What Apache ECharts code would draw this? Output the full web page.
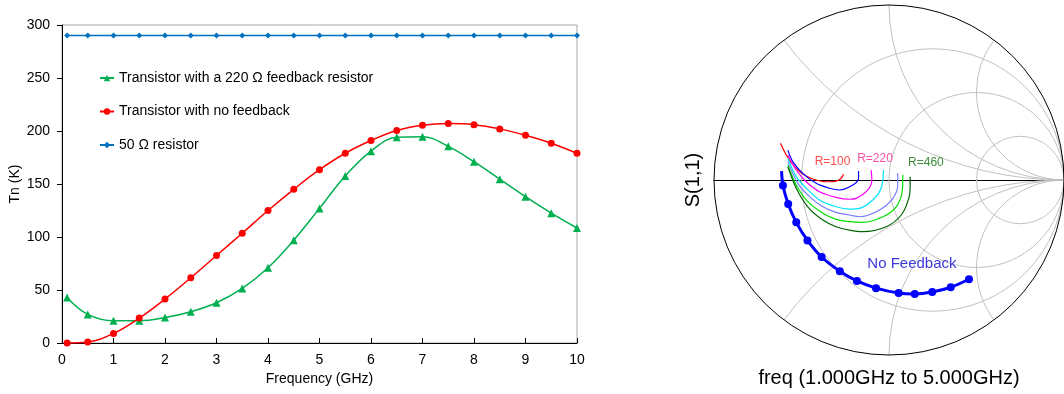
<!DOCTYPE html>
<html>
<head>
<meta charset="utf-8">
<script src="https://cdn.jsdelivr.net/npm/echarts@6/dist/echarts.min.js"></script>
<style>
  html, body { margin: 0; padding: 0; background: #fff; }
  #main { width: 1064px; height: 394px; }
</style>
</head>
<body>
<div id="main"></div>
<script>
// left chart: noise temperature vs frequency
var freq = [0.1, 0.5, 1, 1.5, 2, 2.5, 3, 3.5, 4, 4.5, 5, 5.5, 6, 6.5, 7, 7.5, 8, 8.5, 9, 9.5, 10];
var tnFeedback = [43, 27, 21, 21, 24, 29.5, 38, 51.5, 71, 97, 127, 157.5, 181, 194, 194.5, 185.5, 171, 154.5, 138, 122.5, 108.5];
var tnNoFeedback = [0, 1, 9, 23.5, 41.5, 61.5, 82.5, 103.5, 125, 145, 163.5, 179, 191, 200.5, 205.5, 207, 206, 202, 196, 188.5, 179];
var tnResistor = [290, 290, 290, 290, 290, 290, 290, 290, 290, 290, 290, 290, 290, 290, 290, 290, 290, 290, 290, 290, 290];

// right chart: S(1,1) on a smith chart, reflection coefficient (re, im)
var smithR = [1 / 3, 1, 3];
var smithX = [0.5, 1, 2];
var s11NoFeedback = [
  [-0.614, 0.051], [-0.606, -0.031], [-0.576, -0.137], [-0.530, -0.242], [-0.466, -0.345],
  [-0.385, -0.440], [-0.281, -0.521], [-0.183, -0.577], [-0.074, -0.618], [0.055, -0.646],
  [0.147, -0.651], [0.247, -0.640], [0.353, -0.613], [0.457, -0.567]
];
var s11Fb1 = [[-0.620, 0.210], [-0.587, 0.143], [-0.540, 0.076], [-0.493, 0.034], [-0.435, 0.006], [-0.359, -0.010], [-0.302, -0.006], [-0.273, 0.010], [-0.260, 0.033]];
var s11Fb2 = [[-0.578, 0.171], [-0.550, 0.105], [-0.493, 0.038], [-0.416, -0.019], [-0.340, -0.047], [-0.283, -0.057], [-0.207, -0.029], [-0.174, 0.010], [-0.174, 0.051]];
var s11Fb3 = [[-0.578, 0.143], [-0.530, 0.057], [-0.473, -0.010], [-0.397, -0.067], [-0.302, -0.099], [-0.226, -0.110], [-0.187, -0.105], [-0.121, -0.057], [-0.098, 0], [-0.102, 0.057]];
var s11Fb4 = [[-0.578, 0.124], [-0.530, 0.019], [-0.473, -0.047], [-0.397, -0.114], [-0.302, -0.153], [-0.226, -0.166], [-0.169, -0.162], [-0.093, -0.114], [-0.045, -0.047], [-0.031, 0.057]];
var s11Fb5 = [[-0.578, 0.105], [-0.521, -0.019], [-0.454, -0.095], [-0.378, -0.153], [-0.302, -0.185], [-0.226, -0.200], [-0.169, -0.210], [-0.054, -0.171], [0.022, -0.105], [0.050, -0.029], [0.050, 0.038]];
var s11Fb6 = [[-0.578, 0.086], [-0.530, -0.029], [-0.464, -0.124], [-0.378, -0.190], [-0.302, -0.225], [-0.226, -0.238], [-0.150, -0.242], [-0.035, -0.210], [0.041, -0.153], [0.075, -0.067], [0.079, 0.029]];
var s11Fb7 = [[-0.578, 0.076], [-0.530, -0.047], [-0.464, -0.153], [-0.378, -0.229], [-0.302, -0.267], [-0.226, -0.286], [-0.150, -0.295], [-0.016, -0.267], [0.070, -0.200], [0.113, -0.105], [0.121, -0.029], [0.121, 0.019]];
var smithNotes = [
  { name: 'R=100', value: [-0.323, 0.103], color: '#ff4d4d' },
  { name: 'R=220', value: [-0.080, 0.124], color: '#ff4da6' },
  { name: 'R=460', value: [0.211, 0.101], color: '#3c8c3c' },
  { name: 'No Feedback', value: [0.131, -0.480], color: '#3a3ad8' }
];

var FONT = '"Liberation Sans", Arial, sans-serif';
var chart = echarts.init(document.getElementById('main'));

function pairs(xs, ys) {
  return xs.map(function (x, i) { return [x, ys[i]]; });
}

function fbLine(data, color) {
  return {
    type: 'line', xAxisIndex: 1, yAxisIndex: 1, data: data,
    smooth: 0.3, symbol: 'none', silent: true,
    lineStyle: { color: color, width: 1.2 }
  };
}

var option = {
  animation: false,
  textStyle: { fontFamily: FONT },
  grid: [
    { left: 62, top: 25, width: 515, height: 318, show: true, borderColor: '#a6a6a6', borderWidth: 1 },
    { left: 714, top: 5, width: 350, height: 350 }
  ],
  legend: {
    data: ['Transistor with a 220 Ω feedback resistor', 'Transistor with no feedback', '50 Ω resistor'],
    orient: 'vertical', left: 99, top: 71, padding: 0,
    itemWidth: 14, itemHeight: 8, itemGap: 19.5,
    textStyle: { fontSize: 14, color: '#000', fontFamily: FONT }
  },
  xAxis: [
    {
      gridIndex: 0, type: 'value', min: 0, max: 10, interval: 1,
      name: 'Frequency (GHz)', nameLocation: 'middle', nameGap: 29,
      nameTextStyle: { fontSize: 14, color: '#000' },
      axisLine: { show: true, lineStyle: { color: '#000' } },
      axisTick: { show: true, inside: true, length: 5, lineStyle: { color: '#000' } },
      axisLabel: { fontSize: 14, color: '#000', margin: 10 },
      splitLine: { show: false }
    },
    {
      gridIndex: 1, type: 'value', min: -1, max: 1,
      axisLine: { show: true, onZero: true, lineStyle: { color: '#000' } },
      axisTick: { show: false }, axisLabel: { show: false }, splitLine: { show: false }
    }
  ],
  yAxis: [
    {
      gridIndex: 0, type: 'value', min: 0, max: 300, interval: 50,
      name: 'Tn (K)', nameLocation: 'middle', nameGap: 40,
      nameTextStyle: { fontSize: 14, color: '#000' },
      axisLine: { show: true, lineStyle: { color: '#000' } },
      axisTick: { show: true, length: 5, lineStyle: { color: '#000' } },
      axisLabel: { fontSize: 14, color: '#000', margin: 12 },
      splitLine: { show: false }
    },
    {
      gridIndex: 1, type: 'value', min: -1, max: 1, show: false
    }
  ],
  series: [
    {
      name: 'Transistor with a 220 Ω feedback resistor', type: 'line',
      data: pairs(freq, tnFeedback), smooth: 0.4,
      symbol: 'triangle', symbolSize: 8,
      itemStyle: { color: '#00b050' }, lineStyle: { color: '#00b050', width: 1.5 }
    },
    {
      name: 'Transistor with no feedback', type: 'line',
      data: pairs(freq, tnNoFeedback), smooth: 0.4,
      symbol: 'circle', symbolSize: 7,
      itemStyle: { color: '#ff0000' }, lineStyle: { color: '#ff0000', width: 1.5 }
    },
    {
      name: '50 Ω resistor', type: 'line',
      data: pairs(freq, tnResistor),
      symbol: 'diamond', symbolSize: 6,
      itemStyle: { color: '#0070c0' }, lineStyle: { color: '#0070c0', width: 1.5 }
    },
    fbLine(s11Fb1, '#ff0000'),
    fbLine(s11Fb2, '#0000ff'),
    fbLine(s11Fb3, '#ff00ff'),
    fbLine(s11Fb4, '#00e5ff'),
    fbLine(s11Fb5, '#7b7bff'),
    fbLine(s11Fb6, '#00e000'),
    fbLine(s11Fb7, '#006400'),
    {
      name: 'No Feedback', type: 'line', xAxisIndex: 1, yAxisIndex: 1,
      data: s11NoFeedback.map(function (p, i) { return i === 0 ? { value: p, symbol: 'none' } : p; }),
      smooth: 0.3, symbol: 'circle', symbolSize: 8,
      itemStyle: { color: '#0000ff' }, lineStyle: { color: '#0000ff', width: 3 }
    }
  ]
};
chart.setOption(option);

// smith chart grid drawn in the coordinate system of grid 1
function px(p) { return chart.convertToPixel({ gridIndex: 1 }, p); }
var o = px([0, 0]);
var unit = px([1, 0])[0] - o[0];
var gridStyle = { stroke: '#c0c0c0', fill: 'none', lineWidth: 1 };
var graphics = [];

smithR.forEach(function (r) {
  var c = px([r / (r + 1), 0]);
  graphics.push({ type: 'circle', z: 1, silent: true, shape: { cx: c[0], cy: c[1], r: unit / (r + 1) }, style: gridStyle });
});

function arc(center, a, b) {
  var s = Math.atan2(a[1] - center[1], a[0] - center[0]);
  var e = Math.atan2(b[1] - center[1], b[0] - center[0]);
  if (e < s) e += Math.PI * 2;
  return { type: 'arc', z: 1, silent: true, shape: { cx: center[0], cy: center[1], r: Math.hypot(a[0] - center[0], a[1] - center[1]), startAngle: s, endAngle: e, clockwise: true }, style: gridStyle };
}

smithX.forEach(function (x) {
  var end = px([1, 0]);
  var k = x * x + 1;
  var up = px([(x * x - 1) / k, 2 * x / k]);
  var dn = px([(x * x - 1) / k, -2 * x / k]);
  graphics.push(arc(px([1, 1 / x]), end, up));
  graphics.push(arc(px([1, -1 / x]), dn, end));
});

graphics.push({ type: 'circle', z: 3, silent: true, shape: { cx: o[0], cy: o[1], r: unit }, style: { stroke: '#000', fill: 'none', lineWidth: 1 } });

smithNotes.forEach(function (n) {
  var p = px(n.value);
  graphics.push({
    type: 'text', x: p[0], y: p[1], z: 5, silent: true,
    style: { text: n.name, font: (n.name === 'No Feedback' ? '15px ' : '12px ') + FONT, fill: n.color, align: 'center', verticalAlign: 'middle' }
  });
});

graphics.push({
  type: 'text', x: 693, y: o[1], rotation: Math.PI / 2, silent: true,
  style: { text: 'S(1,1)', font: '20px ' + FONT, fill: '#000', align: 'center', verticalAlign: 'middle' }
});
graphics.push({
  type: 'text', x: o[0], y: 378, silent: true,
  style: { text: 'freq (1.000GHz to 5.000GHz)', font: '20px ' + FONT, fill: '#000', align: 'center', verticalAlign: 'middle' }
});

chart.setOption({ graphic: graphics });
</script>
</body>
</html>
